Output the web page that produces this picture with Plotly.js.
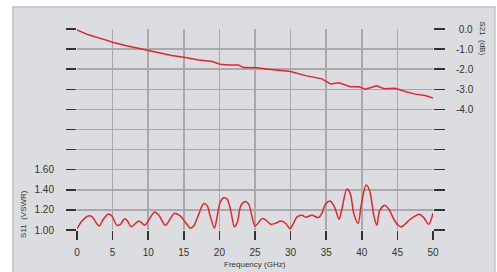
<!DOCTYPE html>
<html>
<head>
<meta charset="utf-8">
<script src="https://cdn.plot.ly/plotly-3.0.1.min.js"></script>
<style>html,body{margin:0;padding:0;background:#fff;}#chart{width:497px;height:272px;}</style>
</head>
<body>
<div id="chart"></div>
<script>
// S21 insertion loss (dB)
const s21Freq = [0, 1.6, 4.0, 5.0, 6.8, 8.7, 10.0, 11.5, 13.3, 15.0, 17.1, 19.0, 20.1, 21.3, 22.7, 23.4, 24.6, 25.3, 26.9, 30.0, 32.1, 34.4, 35.6, 36.8, 38.4, 39.6, 40.5, 42.1, 43.1, 44.7, 46.1, 47.5, 48.9, 50.0];
const s21Vals = [-0.05, -0.29, -0.54, -0.66, -0.82, -0.96, -1.07, -1.20, -1.32, -1.40, -1.54, -1.62, -1.75, -1.79, -1.79, -1.92, -1.92, -1.93, -2.00, -2.12, -2.32, -2.48, -2.73, -2.67, -2.87, -2.87, -3.00, -2.83, -2.97, -2.95, -3.11, -3.24, -3.31, -3.43];

// S11 VSWR
const s11Freq = [0, 0.7, 1.6, 2.1, 3.1, 3.7, 4.4, 4.9, 5.6, 6.1, 6.7, 7.1, 7.6, 8.7, 9.5, 9.8, 10.9, 11.5, 12.4, 13.7, 14.5, 15.2, 15.9, 16.4, 17.0, 17.8, 18.3, 18.7, 19.3, 19.7, 20.1, 20.6, 21.1, 21.6, 22.1, 22.5, 23.0, 23.6, 24.1, 24.5, 25.0, 26.0, 26.5, 27.2, 27.9, 28.6, 29.3, 29.9, 30.4, 30.9, 31.6, 32.1, 33.0, 33.9, 34.4, 34.9, 35.6, 36.2, 36.8, 37.2, 37.9, 38.4, 38.9, 39.5, 39.9, 40.6, 41.1, 41.7, 42.1, 42.5, 43.2, 43.8, 44.5, 45.1, 45.6, 46.8, 48.1, 48.7, 49.4, 50.0];
const s11Vals = [1.013, 1.09, 1.14, 1.133, 1.04, 1.107, 1.16, 1.14, 1.047, 1.057, 1.113, 1.09, 1.033, 1.09, 1.047, 1.067, 1.18, 1.147, 1.047, 1.167, 1.14, 1.08, 1.02, 1.04, 1.14, 1.263, 1.24, 1.14, 1.02, 1.14, 1.273, 1.32, 1.307, 1.19, 1.033, 1.073, 1.24, 1.283, 1.26, 1.157, 1.04, 1.113, 1.10, 1.057, 1.067, 1.09, 1.067, 1.013, 1.067, 1.13, 1.147, 1.127, 1.147, 1.123, 1.167, 1.257, 1.287, 1.223, 1.107, 1.207, 1.407, 1.357, 1.157, 1.067, 1.24, 1.447, 1.39, 1.14, 1.047, 1.19, 1.247, 1.207, 1.107, 1.047, 1.033, 1.107, 1.157, 1.123, 1.057, 1.167];

const xTicks = [0, 5, 10, 15, 20, 25, 30, 35, 40, 45, 50];
const leftTickVals = [1.0, 1.2, 1.4, 1.6, 1.8, 2.0, 2.2, 2.4, 2.6, 2.8, 3.0];
const leftTickText = ['1.00', '1.20', '1.40', '1.60', '', '', '', '', '', '', ''];
const rightTickVals = [0, -1, -2, -3, -4, -5, -6, -7, -8, -9, -10];
const rightTickText = ['\u00a00.0', '-1.0', '-2.0', '-3.0', '-4.0', '', '', '', '', '', ''];

const font = {family: 'Liberation Sans, Arial, sans-serif', size: 10, color: '#333'};

const traces = [
  {x: s21Freq, y: s21Vals, yaxis: 'y2', type: 'scatter', mode: 'lines', line: {color: '#e8232b', width: 1.5, shape: 'linear'}, hoverinfo: 'skip'},
  {x: s11Freq, y: s11Vals, yaxis: 'y', type: 'scatter', mode: 'lines', line: {color: '#e8232b', width: 1.5, shape: 'spline', smoothing: 0.8}, hoverinfo: 'skip'}
];

const layout = {
  width: 497, height: 272,
  margin: {l: 77, r: 64, t: 29, b: 42, pad: 0},
  paper_bgcolor: '#ffffff',
  plot_bgcolor: '#ffffff',
  showlegend: false,
  font: font,
  xaxis: {
    range: [0, 50], tickvals: xTicks, ticktext: xTicks.map(String),
    showgrid: true, gridcolor: '#a9a9a9', gridwidth: 1.5,
    zeroline: false, showline: false,
    ticks: 'outside', ticklen: 9, tickwidth: 1.5, tickcolor: '#333',
    ticklabelstandoff: 4,
    tickfont: font, fixedrange: true
  },
  yaxis: {
    range: [1.0, 3.0], tickvals: leftTickVals, ticktext: leftTickText,
    showgrid: true, gridcolor: '#a9a9a9', gridwidth: 1.5,
    zeroline: false, showline: false,
    ticks: 'outside', ticklen: 10, tickwidth: 1.5, tickcolor: '#333',
    ticklabelstandoff: 10,
    tickfont: font, fixedrange: true
  },
  yaxis2: {
    range: [-10, 0], overlaying: 'y', side: 'right',
    tickvals: rightTickVals, ticktext: rightTickText,
    showgrid: false, zeroline: false, showline: false,
    ticks: 'outside', ticklen: 11, tickwidth: 1.5, tickcolor: '#333',
    ticklabelstandoff: 9,
    tickfont: font, fixedrange: true
  },
  shapes: [
    {type: 'rect', xref: 'paper', yref: 'paper', x0: -0.1798, x1: 1.174, y0: -0.215, y1: 1.1095,
     fillcolor: '#dcdde0', line: {color: '#c0c0c4', width: 1.5}, layer: 'below'}
  ],
  annotations: [
    {text: 'Frequency (GHz)', xref: 'paper', yref: 'paper', x: 0.5, y: -0.17, xanchor: 'center', yanchor: 'middle', showarrow: false,
     font: {family: 'Liberation Sans, Arial, sans-serif', size: 8, color: '#333'}},
    {text: 'S11  (VSWR)', xref: 'paper', yref: 'paper', x: -0.149, y: 0.08, xanchor: 'center', yanchor: 'middle', textangle: -90, showarrow: false,
     font: {family: 'Liberation Sans, Arial, sans-serif', size: 8, color: '#333'}},
    {text: 'S21  (dB)', xref: 'paper', yref: 'paper', x: 1.138, y: 0.953, xanchor: 'center', yanchor: 'middle', textangle: 90, showarrow: false,
     font: {family: 'Liberation Sans, Arial, sans-serif', size: 8, color: '#333'}}
  ]
};

Plotly.newPlot('chart', traces, layout, {staticPlot: true, displayModeBar: false});
</script>
</body>
</html>
